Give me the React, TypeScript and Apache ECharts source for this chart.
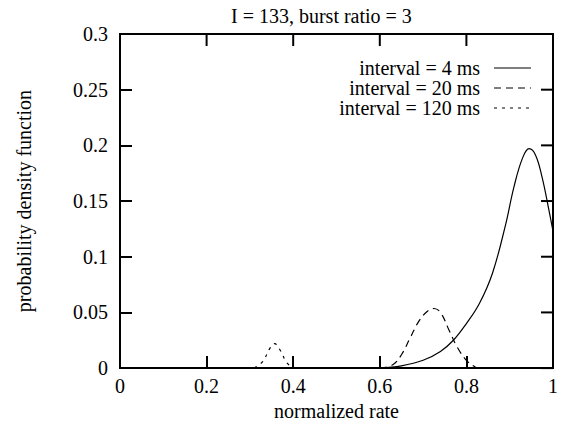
import React, { useEffect, useRef } from "react";
import * as echarts from "echarts";

const titleText = "I = 133, burst ratio = 3";
const xAxisName = "normalized rate";
const yAxisName = "probability density function";
const seriesNames = ["interval = 4 ms", "interval = 20 ms", "interval = 120 ms"];
const seriesDash: (number[] | "solid")[] = ["solid", [7, 5], [3, 5]];
const xTicks = [0, 0.2, 0.4, 0.6, 0.8, 1];
const yTicks = [0, 0.05, 0.1, 0.15, 0.2, 0.25, 0.3];

const interval4ms: [number, number][] = [
  [0.6, 0], [0.65, 0.002], [0.7, 0.007], [0.74, 0.015], [0.77, 0.025],
  [0.8, 0.04], [0.83, 0.058], [0.86, 0.085], [0.89, 0.128], [0.91, 0.163],
  [0.93, 0.189], [0.945, 0.197], [0.96, 0.191], [0.975, 0.171], [0.99, 0.143],
  [1.0, 0.123],
];
const interval20ms: [number, number][] = [
  [0.6, 0], [0.63, 0.003], [0.65, 0.012], [0.67, 0.027], [0.69, 0.042],
  [0.71, 0.051], [0.725, 0.0535], [0.74, 0.05], [0.76, 0.034], [0.78, 0.018],
  [0.8, 0.007], [0.82, 0.001], [0.83, 0],
];
const interval120ms: [number, number][] = [
  [0.31, 0], [0.33, 0.006], [0.345, 0.017], [0.357, 0.022], [0.37, 0.016],
  [0.385, 0.005], [0.4, 0],
];

const FONT = "'Liberation Serif', 'Times New Roman', serif";
const TICK = 12;

export default function App() {
  const ref = useRef<HTMLDivElement>(null);
  useEffect(() => {
    if (!ref.current) return;
    const chart = echarts.init(ref.current, undefined, { renderer: "svg" });
    const labelStyle = { color: "#000", fontFamily: FONT, fontSize: 20 };
    const legendTop = 68;
    const legendStep = 20;
    const legendGraphics: any[] = [];
    seriesNames.forEach((name, i) => {
      const y = legendTop + i * legendStep;
      legendGraphics.push({
        type: "text",
        x: 480,
        y,
        style: {
          text: name,
          fill: "#000",
          fontFamily: FONT,
          fontSize: 20,
          align: "right",
          verticalAlign: "middle",
        },
      });
      legendGraphics.push({
        type: "line",
        shape: { x1: 494, y1: y, x2: 531, y2: y },
        style: {
          stroke: "#000",
          lineWidth: 1.2,
          lineDash: seriesDash[i] === "solid" ? null : seriesDash[i],
        },
      });
    });

    const xMin = xTicks[0];
    const xMax = xTicks[xTicks.length - 1];
    const yMin = yTicks[0];
    const yMax = yTicks[yTicks.length - 1];

    const xTickSeries = {
      type: "custom",
      silent: true,
      clip: false,
      z: 10,
      data: xTicks.map((v) => [v, yMin]),
      renderItem: (_params: any, api: any) => {
        const v = api.value(0);
        const t = api.coord([v, yMax]);
        return {
          type: "line",
          shape: { x1: t[0], y1: t[1], x2: t[0], y2: t[1] + TICK },
          style: { stroke: "#000", lineWidth: 2 },
        };
      },
    };
    const yTickSeries = {
      type: "custom",
      silent: true,
      clip: false,
      z: 10,
      data: yTicks.map((v) => [xMin, v]),
      renderItem: (_params: any, api: any) => {
        const v = api.value(1);
        const r = api.coord([xMax, v]);
        return {
          type: "line",
          shape: { x1: r[0], y1: r[1], x2: r[0] - TICK, y2: r[1] },
          style: { stroke: "#000", lineWidth: 2 },
        };
      },
    };

    chart.setOption({
      animation: false,
      backgroundColor: "#fff",
      textStyle: { fontFamily: FONT },
      title: {
        text: titleText,
        left: 226,
        top: 1,
        textStyle: { ...labelStyle, fontWeight: "normal" },
      },
      grid: {
        left: 120, right: 4, top: 34, bottom: 54,
        show: true, borderColor: "#000", borderWidth: 2, backgroundColor: "transparent",
      },
      graphic: legendGraphics,
      xAxis: {
        type: "value",
        min: xMin,
        max: xMax,
        interval: 0.2,
        name: xAxisName,
        nameLocation: "middle",
        nameGap: 27,
        nameTextStyle: labelStyle,
        axisLabel: { show: true, ...labelStyle, margin: 8 },
        axisLine: { show: true, lineStyle: { color: "#000", width: 2 } },
        axisTick: { show: true, inside: true, length: TICK, lineStyle: { color: "#000", width: 2 } },
        splitLine: { show: false },
      },
      yAxis: {
        type: "value",
        min: yMin,
        max: yMax,
        interval: 0.05,
        name: yAxisName,
        nameLocation: "middle",
        nameGap: 86,
        nameTextStyle: labelStyle,
        axisLabel: { show: true, ...labelStyle, margin: 12 },
        axisLine: { show: true, lineStyle: { color: "#000", width: 2 } },
        axisTick: { show: true, inside: true, length: TICK, lineStyle: { color: "#000", width: 2 } },
        splitLine: { show: false },
      },
      series: [
        ...[interval4ms, interval20ms, interval120ms].map((data, i) => ({
          name: seriesNames[i],
          type: "line",
          data,
          smooth: 0.4,
          symbol: "none",
          lineStyle: { color: "#000", width: 1.2, type: seriesDash[i] },
          itemStyle: { color: "#000" },
        })),
        xTickSeries,
        yTickSeries,
      ],
    });

    return () => chart.dispose();
  }, []);
  return <div ref={ref} style={{ width: 561, height: 426, position: "absolute", left: 0, top: 0 }} />;
}
